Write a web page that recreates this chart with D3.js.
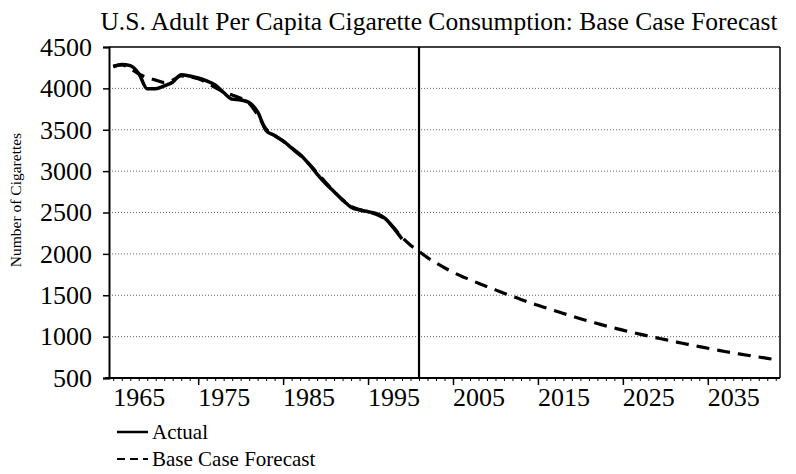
<!DOCTYPE html>
<html>
<head>
<meta charset="utf-8">
<script src="https://cdn.jsdelivr.net/npm/d3@7"></script>
<style>
  html, body { margin: 0; padding: 0; background: #fff; }
  svg { display: block; }
  text { font-family: "Liberation Serif", "Times New Roman", serif; fill: #000; }
</style>
</head>
<body>
<svg id="chart" width="796" height="474"></svg>
<script>
// ---- data ----
const actualYears = d3.range(1962, 1997);
const actualValues = [4260, 4290, 4275, 4180, 3995, 3995, 4030, 4075, 4165, 4150,
                      4125, 4090, 4040, 3950, 3870, 3860, 3830, 3715, 3490, 3430,
                      3365, 3280, 3200, 3090, 2965, 2850, 2750, 2650, 2565, 2530,
                      2510, 2485, 2430, 2315, 2180];
const forecastYears = d3.range(1962, 2041);
const forecastValues = [4270, 4285, 4240, 4175, 4130, 4100, 4070, 4100, 4150, 4140,
                        4115, 4070, 4010, 3960, 3920, 3880, 3820, 3680, 3510, 3430,
                        3360, 3275, 3190, 3095, 2980, 2865, 2755, 2655, 2575, 2535,
                        2505, 2475, 2420, 2320, 2200, 2105, 2030, 1955, 1890, 1832,
                        1778, 1730, 1688, 1645, 1605, 1565, 1525, 1488, 1450, 1412,
                        1378, 1345, 1312, 1280, 1248, 1216, 1186, 1158, 1130, 1104,
                        1078, 1053, 1030, 1007, 985, 964, 942, 920, 900, 880,
                        860, 840, 820, 802, 786, 770, 754, 738, 722];
const yTicks = [500, 1000, 1500, 2000, 2500, 3000, 3500, 4000, 4500];
const xLabelYears = [1965, 1975, 1985, 1995, 2005, 2015, 2025, 2035];
const xMajorTickYears = [1972, 1982, 1992, 2002, 2012, 2022, 2032];
const dividerYear = [1998];
const titleText = "U.S. Adult Per Capita Cigarette Consumption: Base Case Forecast";
const yAxisTitle = "Number of Cigarettes";
const legendLabels = ["Actual", "Base Case Forecast"];

// ---- layout ----
const svg = d3.select("#chart");
const pLeft = 109, pRight = 780, pTop = 47, pBottom = 378;

const x = d3.scaleLinear().domain([1961.5, 2040.5]).range([pLeft, pRight]);
const y = d3.scaleLinear().domain([500, 4500]).range([pBottom, pTop]);

// gridlines
svg.append("g").selectAll("line")
  .data(yTicks.filter(v => v > 500 && v < 4500))
  .join("line")
  .attr("x1", pLeft).attr("x2", pRight)
  .attr("y1", d => y(d)).attr("y2", d => y(d))
  .attr("stroke", "#666").attr("stroke-width", 1)
  .attr("stroke-dasharray", "1,2");

// frame (top + right)
svg.append("line").attr("x1", pLeft).attr("x2", pRight).attr("y1", pTop).attr("y2", pTop)
  .attr("stroke", "#000").attr("stroke-width", 1.5);
svg.append("line").attr("x1", pRight).attr("x2", pRight).attr("y1", pTop).attr("y2", pBottom)
  .attr("stroke", "#000").attr("stroke-width", 1.5);

// y axis
const yAxis = d3.axisLeft(y).tickValues(yTicks).tickSize(6).tickPadding(11).tickFormat(d3.format("d"));
const gy = svg.append("g").attr("transform", `translate(${pLeft},0)`).call(yAxis);
gy.select(".domain").attr("stroke", "#000").attr("stroke-width", 2);
gy.selectAll(".tick line").attr("stroke", "#000").attr("stroke-width", 1.5);
gy.selectAll(".tick text").attr("font-size", "26px").attr("font-family", "Liberation Serif");

// x axis: minor ticks every year, major every 10
const gxMinor = svg.append("g").attr("transform", `translate(0,${pBottom})`)
  .call(d3.axisBottom(x).tickValues(forecastYears).tickSize(3).tickFormat(""));
gxMinor.select(".domain").remove();
gxMinor.selectAll(".tick line").attr("stroke", "#000").attr("stroke-width", 1);

const gxMajor = svg.append("g").attr("transform", `translate(0,${pBottom})`)
  .call(d3.axisBottom(x).tickValues(xMajorTickYears).tickSize(7).tickFormat(""));
gxMajor.select(".domain").remove();
gxMajor.selectAll(".tick line").attr("stroke", "#000").attr("stroke-width", 1.5);

const gxLab = svg.append("g").attr("transform", `translate(0,${pBottom})`)
  .call(d3.axisBottom(x).tickValues(xLabelYears).tickSize(0).tickPadding(10).tickFormat(d3.format("d")));
gxLab.select(".domain").remove();
gxLab.selectAll(".tick text").attr("font-size", "26px").attr("font-family", "Liberation Serif");

svg.append("line").attr("x1", pLeft - 4).attr("x2", pRight).attr("y1", pBottom).attr("y2", pBottom)
  .attr("stroke", "#000").attr("stroke-width", 2);

// divider line
svg.append("g").selectAll("line").data(dividerYear).join("line")
  .attr("x1", d => x(d)).attr("x2", d => x(d)).attr("y1", pTop).attr("y2", pBottom)
  .attr("stroke", "#000").attr("stroke-width", 2.2);

// lines
const lineGen = d3.line().x(d => x(d[0])).y(d => y(d[1])).curve(d3.curveMonotoneX);
const actualData = actualYears.map((yr, i) => [yr, actualValues[i]]);
const forecastData = forecastYears.map((yr, i) => [yr, forecastValues[i]]);

svg.append("path").datum(forecastData).attr("d", lineGen)
  .attr("fill", "none").attr("stroke", "#000").attr("stroke-width", 3.2)
  .attr("stroke-dasharray", "13,8");
svg.append("path").datum(actualData).attr("d", lineGen)
  .attr("fill", "none").attr("stroke", "#000").attr("stroke-width", 3.5)
  .attr("stroke-linejoin", "round");

// title
svg.append("text").attr("x", 439).attr("y", 30).attr("text-anchor", "middle")
  .attr("font-size", "25.5px").text(titleText);

// y axis title
svg.append("text").attr("transform", "translate(21,200) rotate(-90)")
  .attr("text-anchor", "middle").attr("font-size", "15.5px").text(yAxisTitle);

// legend
const lg = svg.append("g");
const legendY = [432, 459];
lg.append("line").attr("x1", 117).attr("x2", 148).attr("y1", legendY[0]).attr("y2", legendY[0])
  .attr("stroke", "#000").attr("stroke-width", 2.5);
lg.append("line").attr("x1", 117).attr("x2", 148).attr("y1", legendY[1]).attr("y2", legendY[1])
  .attr("stroke", "#000").attr("stroke-width", 1.8).attr("stroke-dasharray", "8,5");
lg.selectAll("text").data(legendLabels).join("text")
  .attr("x", 152).attr("y", (d, i) => legendY[i] + 7)
  .attr("font-size", "21px").text(d => d);
</script>
</body>
</html>
